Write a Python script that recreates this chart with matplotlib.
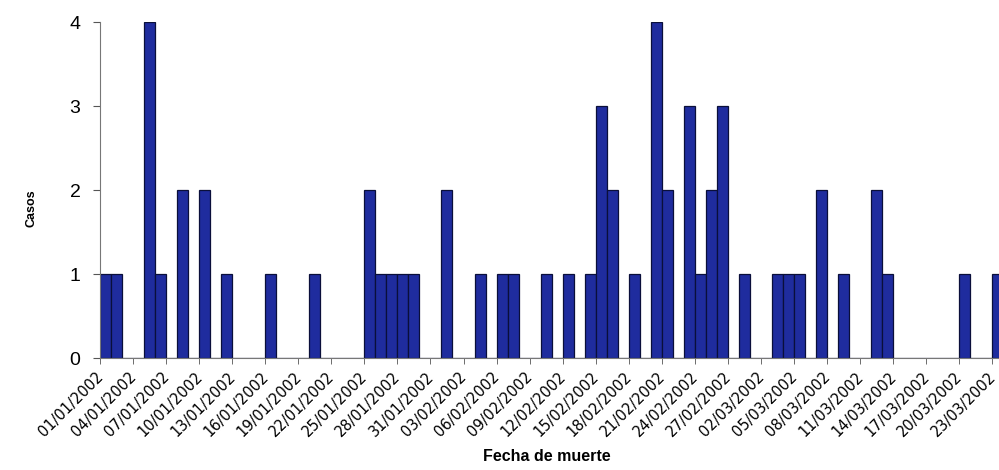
import numpy as np
import pandas as pd
import matplotlib
matplotlib.use('Agg')
import matplotlib.pyplot as plt
import matplotlib.transforms as mtransforms
from matplotlib.ticker import FixedLocator

plt.rcParams['font.family'] = ['Liberation Sans', 'DejaVu Sans']

# fechas diarias del 01/01/2002 al 23/03/2002
fechas = pd.date_range('2002-01-01', '2002-03-23', freq='D')

# casos por día
casos = [1, 1, 0, 0, 4, 1, 0, 2, 0, 2,
         0, 1, 0, 0, 0, 1, 0, 0, 0, 1,
         0, 0, 0, 0, 2, 1, 1, 1, 1, 0,
         0, 2, 0, 0, 1, 0, 1, 1, 0, 0,
         1, 0, 1, 0, 1, 3, 2, 0, 1, 0,
         4, 2, 0, 3, 1, 2, 3, 0, 1, 0,
         0, 1, 1, 1, 0, 2, 0, 1, 0, 0,
         2, 1, 0, 0, 0, 0, 0, 0, 1, 0,
         0, 1]

etiquetas = [f.strftime('%d/%m/%Y') for f in fechas]
x = np.arange(len(casos))

fig = plt.figure(figsize=(9.99, 4.70), dpi=100)
ax = fig.add_axes([0.100, 0.238, 0.900, 0.715])

ax.bar(x, casos, width=1.0, color='#1f2c9e', edgecolor='#0a0f3a', linewidth=0.9)

ax.set_xlim(-0.5, 81.1)
ax.set_ylim(0, 4)

# etiquetas cada 3 días, marcas entre categorías
ax.set_xticks(x[::3])
ax.set_xticklabels(etiquetas[::3], rotation=45, ha='right', rotation_mode='anchor',
                   fontsize=10.5, family='DejaVu Sans')
ax.xaxis.set_minor_locator(FixedLocator(np.arange(-0.5, 82, 3)))
ax.tick_params(axis='x', which='major', length=0, pad=8)
ax.tick_params(axis='x', which='minor', length=4, color='#555555', direction='out')

# desplazar las etiquetas un poco a la izquierda, como en el original
desplaza = mtransforms.ScaledTranslation(-0.10, 0, fig.dpi_scale_trans)
for lab in ax.get_xticklabels():
    lab.set_transform(lab.get_transform() + desplaza)

ax.set_yticks([0, 1, 2, 3, 4])
ax.tick_params(axis='y', labelsize=14, length=5, color='#555555', pad=9)

for s in ['top', 'right']:
    ax.spines[s].set_visible(False)
ax.spines['left'].set_color('#777777')
ax.spines['bottom'].set_color('#777777')
ax.spines['left'].set_linewidth(0.8)
ax.spines['bottom'].set_linewidth(0.8)

fig.text(0.032, 0.557, 'Casos', rotation=90, ha='center', va='center', fontsize=9, fontweight='bold')
fig.text(0.547, 0.028, 'Fecha de muerte', ha='center', va='center', fontsize=11.5, fontweight='bold')

fig.savefig('out.png', dpi=100)
